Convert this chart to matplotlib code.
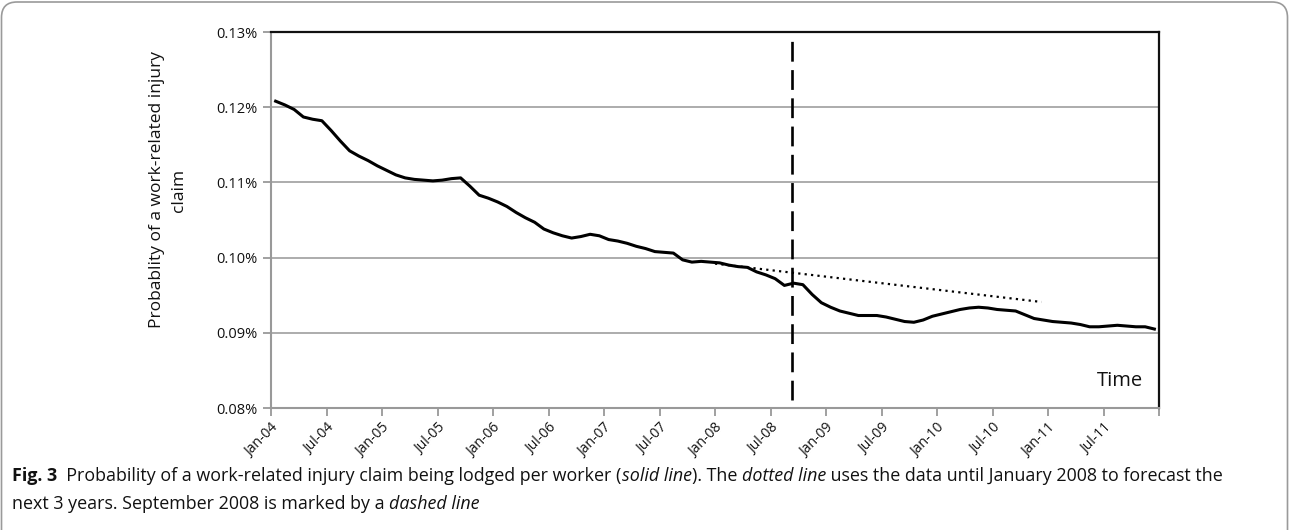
import matplotlib
matplotlib.use("Agg")
import matplotlib.pyplot as plt
from matplotlib.patches import FancyBboxPatch

# ---------------- data ----------------
claim_prob = [
    0.1208, 0.1203, 0.1197, 0.1187, 0.1184, 0.1182, 0.1169, 0.1155, 0.1142, 0.1135,
    0.1129, 0.1122, 0.1116, 0.1110, 0.1106, 0.1104, 0.1103, 0.1102, 0.1103, 0.1105,
    0.1106, 0.1095, 0.1083, 0.1079, 0.1074, 0.1068, 0.1060, 0.1053, 0.1047, 0.1038,
    0.1033, 0.1029, 0.1026, 0.1028, 0.1031, 0.1029, 0.1024, 0.1022, 0.1019, 0.1015,
    0.1012, 0.1008, 0.1007, 0.1006, 0.0997, 0.0994, 0.0995, 0.0994, 0.0993, 0.0990,
    0.0988, 0.0987, 0.0981, 0.0977, 0.0972, 0.0963, 0.0966, 0.0964, 0.0951, 0.0940,
    0.0934, 0.0929, 0.0926, 0.0923, 0.0923, 0.0923, 0.0921, 0.0918, 0.0915, 0.0914,
    0.0917, 0.0922, 0.0925, 0.0928, 0.0931, 0.0933, 0.0934, 0.0933, 0.0931, 0.0930,
    0.0929, 0.0924, 0.0919, 0.0917, 0.0915, 0.0914, 0.0913, 0.0911, 0.0908, 0.0908,
    0.0909, 0.0910, 0.0909, 0.0908, 0.0908, 0.0905,
]
forecast_months = [48, 83.3]
forecast_values = [0.0992, 0.0941]
event_month = 56.3  # September 2008

tick_labels = ["Jan-04", "Jul-04", "Jan-05", "Jul-05", "Jan-06", "Jul-06", "Jan-07",
               "Jul-07", "Jan-08", "Jul-08", "Jan-09", "Jul-09", "Jan-10", "Jul-10",
               "Jan-11", "Jul-11", ""]
y_ticks = [0.08, 0.09, 0.10, 0.11, 0.12, 0.13]
y_tick_labels = ["0.08%", "0.09%", "0.10%", "0.11%", "0.12%", "0.13%"]

# ---------------- figure ----------------
FONT = "Open Sans"
plt.rcParams["font.family"] = [FONT, "DejaVu Sans"]

W, H = 1290, 530
fig = plt.figure(figsize=(W / 100, H / 100), dpi=100)

# outer frame
frame = FancyBboxPatch((1.5 / W, -0.05), (W - 4) / W, 1.05 - 2 / H,
                       boxstyle="round,pad=0,rounding_size=0.012",
                       transform=fig.transFigure, fill=False,
                       edgecolor="#9a9a9a", linewidth=1.2, mutation_aspect=W / H)
fig.patches.append(frame)

left, right, top, bottom = 271, 1159, 32, 408
ax = fig.add_axes([left / W, 1 - bottom / H, (right - left) / W, (bottom - top) / H])

x_pos = [i + 0.5 for i in range(len(claim_prob))]
ax.plot(x_pos, claim_prob, color="black", lw=2.2, solid_joinstyle="round", zorder=4)
ax.plot(forecast_months, forecast_values, color="black", lw=1.6,
        linestyle=(0, (1, 1.9)), zorder=3)
ax.axvline(event_month, ymin=0.021, ymax=0.992, color="black", lw=1.9,
           linestyle=(0, (7.5, 3.2)), zorder=5)

ax.set_xlim(0, 96)
ax.set_ylim(0.08, 0.13)
ax.set_xticks(range(0, 97, 6))
ax.set_xticklabels(tick_labels, rotation=45, ha="right", rotation_mode="anchor",
                   fontsize=10, color="#111111")
ax.set_yticks(y_ticks)
ax.set_yticklabels(y_tick_labels, fontsize=10.5, color="#111111")

ax.grid(axis="y", color="#a6a6a6", lw=1.3)
ax.set_axisbelow(True)
ax.tick_params(axis="x", direction="out", length=6, width=1.3, color="#999999", pad=3)
ax.tick_params(axis="y", direction="out", length=6, width=1.3, color="#999999", pad=4)

for s in ("left", "bottom"):
    ax.spines[s].set_color("#999999")
    ax.spines[s].set_linewidth(1.5)
for s in ("top", "right"):
    ax.spines[s].set_color("#111111")
    ax.spines[s].set_linewidth(1.6)

fig.text(168 / W, 1 - 190 / H, "Probablity of a work-related injury\nclaim",
         rotation=90, ha="center", va="center", fontsize=12.5, color="#111111",
         linespacing=1.45, multialignment="center")
ax.text(0.982, 0.045, "Time", transform=ax.transAxes, ha="right", va="bottom",
        fontsize=14.5, color="#111111")

# ---------------- caption with mixed styles ----------------
renderer = fig.canvas.get_renderer()
cap_size = 12.9


def draw_runs(runs, x_px, y_px):
    x = x_px
    for txt, weight, style in runs:
        t = fig.text(x / W, 1 - y_px / H, txt, fontsize=cap_size, fontweight=weight,
                     fontstyle=style, ha="left", va="baseline", color="#111111",
                     family=[FONT, "DejaVu Sans"])
        bb = t.get_window_extent(renderer=renderer)
        x += bb.width


draw_runs([
    ("Fig. 3", "bold", "normal"),
    ("  Probability of a work-related injury claim being lodged per worker (", "normal", "normal"),
    ("solid line", "normal", "italic"),
    ("). The ", "normal", "normal"),
    ("dotted line", "normal", "italic"),
    (" uses the data until January 2008 to forecast the", "normal", "normal"),
], 12, 481)
draw_runs([
    ("next 3 years. September 2008 is marked by a ", "normal", "normal"),
    ("dashed line", "normal", "italic"),
], 12, 509)

fig.savefig("out.png", dpi=100)
